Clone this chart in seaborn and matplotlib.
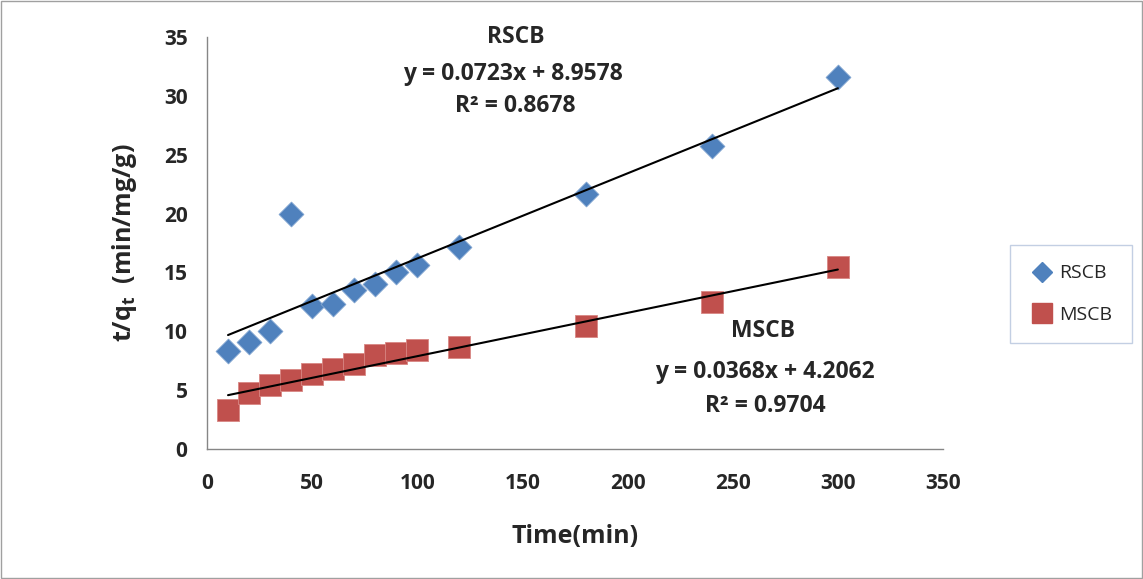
import numpy as np
import pandas as pd
import matplotlib
matplotlib.use("Agg")
import matplotlib.pyplot as plt
from matplotlib.lines import Line2D
from matplotlib.patches import Rectangle
import seaborn as sns

# ---- data ----
time_min = [10, 20, 30, 40, 50, 60, 70, 80, 90, 100, 120, 180, 240, 300]
rscb = [8.33, 9.09, 10.03, 20.0, 12.12, 12.29, 13.47, 13.98, 15.03, 15.65, 17.14, 21.7, 25.7, 31.6]
mscb = [3.3, 4.72, 5.42, 5.9, 6.33, 6.78, 7.2, 8.02, 8.19, 8.45, 8.67, 10.42, 12.46, 15.5]
series_names = ["RSCB", "MSCB"]
slopes = [0.0723, 0.0368]
intercepts = [8.9578, 4.2062]
r2_values = [0.8678, 0.9704]
x_ticks = [0, 50, 100, 150, 200, 250, 300, 350]
y_ticks = [0, 5, 10, 15, 20, 25, 30, 35]

sns.set_style("white")
plt.rcParams["font.family"] = ["Open Sans", "DejaVu Sans"]
plt.rcParams["mathtext.fontset"] = "custom"
plt.rcParams["mathtext.rm"] = "Open Sans:bold"
plt.rcParams["mathtext.it"] = "Open Sans:bold"
plt.rcParams["mathtext.bf"] = "Open Sans:bold"

fig = plt.figure(figsize=(11.43, 5.79), dpi=100)
ax = fig.add_axes([207/1143, 1-449/579, (943-207)/1143, (449-37)/579])

blue = "#4F81BD"
red = "#C0504D"
grey = "#868686"

df = pd.DataFrame({"t": time_min, "RSCB": rscb, "MSCB": mscb})

sns.scatterplot(data=df, x="t", y="RSCB", ax=ax, marker="D", s=160,
                color=blue, edgecolor="#7FA3D0", linewidth=0.6, zorder=3, legend=False)
sns.scatterplot(data=df, x="t", y="MSCB", ax=ax, marker="s", s=250,
                color=red, edgecolor="#D88784", linewidth=0.6, zorder=3, legend=False)

xfit = np.array([time_min[0], time_min[-1]], dtype=float)
for m, b in zip(slopes, intercepts):
    sns.lineplot(x=xfit, y=m * xfit + b, ax=ax, color="black", linewidth=1.5, zorder=4)

ax.set_xlim(0, 350)
ax.set_ylim(0, 35)
ax.set_xticks(x_ticks)
ax.set_yticks(y_ticks)
ax.set_xticklabels([str(v) for v in x_ticks], fontsize=15, fontweight="bold")
ax.set_yticklabels([str(v) for v in y_ticks], fontsize=15, fontweight="bold")
ax.tick_params(axis="both", direction="out", length=6, width=1, color=grey, pad=8)
ax.tick_params(axis="x", pad=11)
for s in ["top", "right"]:
    ax.spines[s].set_visible(False)
for s in ["left", "bottom"]:
    ax.spines[s].set_color(grey)
    ax.spines[s].set_linewidth(1)

ax.set_xlabel("Time(min)", fontsize=18, fontweight="bold", labelpad=22)
ax.set_ylabel(r"t/q$_\mathregular{t}$  (min/mg/g)", fontsize=18, fontweight="bold", labelpad=18)

# annotations
def ann(xp, yp, txt):
    fig.text(xp/1143, 1-yp/579, txt, ha="center", va="center", fontsize=16.5, fontweight="bold")

ann(516, 37, series_names[0])
ann(513, 74, f"y = {slopes[0]:.4f}x + {intercepts[0]:.4f}")
ann(515, 106, f"R² = {r2_values[0]:.4f}")
ann(763, 331, series_names[1])
ann(765, 372, f"y = {slopes[1]:.4f}x + {intercepts[1]:.4f}")
ann(765, 406, f"R² = {r2_values[1]:.4f}")

handles = [
    Line2D([], [], marker="D", linestyle="", color=blue, markersize=10, label=series_names[0]),
    Line2D([], [], marker="s", linestyle="", color=red, markersize=15, label=series_names[1]),
]
leg = fig.legend(handles=handles, loc="center", bbox_to_anchor=(1071/1143, 1-294/579),
                 fontsize=14, frameon=True, fancybox=False, handletextpad=0.3,
                 labelspacing=1.2, borderpad=1.0, handlelength=1.2)
leg.get_frame().set_edgecolor("#B4C3DC")
leg.get_frame().set_linewidth(1)

fig.patches.append(Rectangle((1/1143, 1/579), 1-2/1143, 1-2/579, transform=fig.transFigure,
                             fill=False, edgecolor="#A0A0A0", linewidth=1))

fig.savefig("out.png", dpi=100)
